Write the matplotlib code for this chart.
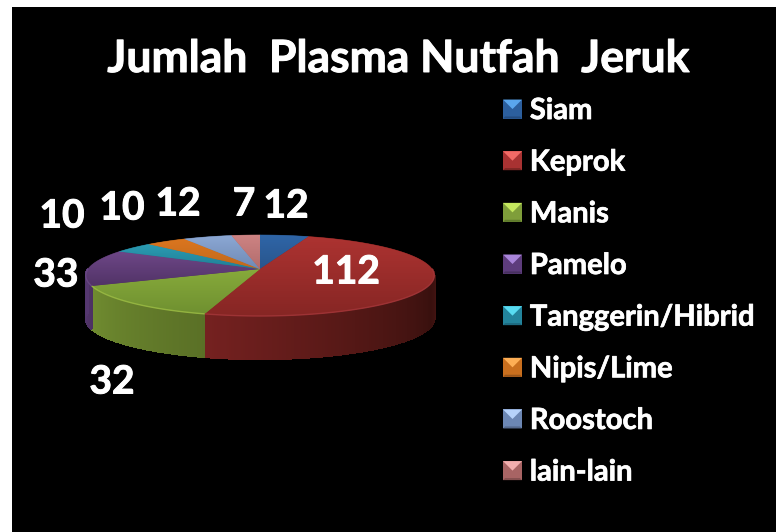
import numpy as np
import matplotlib
matplotlib.use("Agg")
import matplotlib.pyplot as plt
import matplotlib.patheffects as pe
from matplotlib.colors import LinearSegmentedColormap, to_rgb
from matplotlib.legend_handler import HandlerBase
from matplotlib.patches import Patch, Polygon

categories = ["Siam", "Keprok", "Manis", "Pamelo", "Tanggerin/Hibrid",
              "Nipis/Lime", "Roostoch", "lain-lain"]
values = [12, 112, 32, 33, 10, 10, 12, 7]
title = "Jumlah  Plasma Nutfah  Jeruk"

# styles
top_hi = ["#2f66a8", "#ad3331", "#87aa3b", "#6e4788", "#2b9cb3", "#dc761f", "#8ca8d4", "#ce8484"]
top_lo = ["#29558c", "#862624", "#6f9030", "#513366", "#207f96", "#c0691c", "#6f8ab5", "#b26c6c"]
legend_base = ["#2c5f9e", "#a83232", "#7f9e3a", "#5d3c7c", "#23849c", "#c96f1e", "#6c87b4", "#a86464"]
legend_light = ["#5aa6ee", "#f26a66", "#c4e85e", "#a985da", "#58dcf2", "#fdae55", "#b6d2fa", "#f2aeae"]
legend_dark = ["#234c80", "#7c2624", "#5f7a2c", "#47305f", "#1d6a80", "#99551a", "#55698d", "#855050"]
# colours of the side wall at the ends of each visible slice: (angle, colour)
side_stops = {
    1: [(90, "#4a1513"), (112, "#38100e"), (150, "#521715"), (196, "#752120")],
    2: [(196, "#5a7026"), (246.5, "#708c30")],
    3: [(246.5, "#4c3162"), (270, "#553770")],
}
label_xy = [(286, 206), (346, 272), (112, 382), (56, 275),
            (62, 216), (122, 208), (178, 204), (244, 204)]

plt.rcParams["font.family"] = ["Lato", "DejaVu Sans"]
plt.rcParams["font.weight"] = "bold"
heavy = [pe.withStroke(linewidth=0.7, foreground="white")]

W, H = 776, 532
fig = plt.figure(figsize=(W / 100, H / 100), dpi=100, facecolor="white")
ax = fig.add_axes([12 / W, 0, 1 - 12 / W, 1 - 7 / H], facecolor="black")
ax.set_axis_off()
ax.add_patch(Polygon([(12, 7), (W, 7), (W, H), (12, H)], closed=True, fc="black", ec="none", zorder=0))

CX, CY, R, A, B, DEPTH = 260, 269, 172, 39.46, 0.16, 43


def project(theta_deg):
    t = np.radians(np.asarray(theta_deg, dtype=float))
    u, v = np.sin(t), np.cos(t)
    d = 1 + B * v
    return CX + R * u / d, CY - A * v / d


ends = np.cumsum(values) / np.sum(values) * 360
starts = np.r_[0, ends[:-1]]

# side wall
for idx, stops in side_stops.items():
    a0, a1 = stops[0][0], stops[-1][0]
    grid = np.linspace(a0, a1, int(a1 - a0) * 2 + 2)
    angs = [s[0] for s in stops]
    rgb = np.array([to_rgb(s[1]) for s in stops])
    for g0, g1 in zip(grid[:-1], grid[1:]):
        x, y = project([g0, g1])
        gm = (g0 + g1) / 2
        col = [np.interp(gm, angs, rgb[:, k]) for k in range(3)]
        ax.fill([x[0], x[1], x[1], x[0]],
                [y[0], y[1], y[1] + DEPTH, y[0] + DEPTH],
                color=col, lw=1.0, zorder=2, antialiased=False)

# top faces with a vertical gradient
grad = np.linspace(0, 1, 256).reshape(-1, 1)
for i, (s, e) in enumerate(zip(starts, ends)):
    th = np.linspace(s, e, max(int(e - s) * 2, 8))
    x, y = project(th)
    xs = np.r_[CX, x]
    ys = np.r_[CY, y]
    poly = Polygon(np.c_[xs, ys], closed=True, fc=top_lo[i], ec=top_lo[i], lw=0.4, zorder=3)
    ax.add_patch(poly)
    cmap = LinearSegmentedColormap.from_list(f"c{i}", [top_hi[i], top_lo[i]])
    im = ax.imshow(grad, cmap=cmap, aspect="auto", zorder=3.1,
                   extent=(xs.min(), xs.max(), ys.max(), ys.min()), interpolation="bilinear")
    im.set_clip_path(poly)

# light rim at the front edge of the top
for idx, col in ((1, "#a5373a"), (2, "#9dbd45"), (3, "#6d4a8a")):
    a0 = max(starts[idx], 90)
    a1 = min(ends[idx], 270)
    x, y = project(np.linspace(a0, a1, 80))
    ax.plot(x, y, color=col, lw=1.0, zorder=4, alpha=0.8, solid_capstyle="butt")

ax.set_xlim(12, W)
ax.set_ylim(H, 7)

# data labels
for v, (lx, ly) in zip(values, label_xy):
    ax.text(lx, ly, str(v), color="white", fontsize=28, fontweight="bold",
            ha="center", va="center", zorder=6, path_effects=heavy)

fig.suptitle(title, x=399 / W, y=1 - 59 / H, color="white", fontsize=32,
             fontweight="bold", ha="center", va="center", path_effects=heavy)


class BevelHandler(HandlerBase):
    def create_artists(self, legend, orig, xd, yd, width, height, fontsize, trans):
        i = orig.idx
        s = 19 * 0.72
        x0 = -xd
        y0 = -yd + (height - s) / 2
        x1, y1 = x0 + s, y0 + s
        xm, ym = x0 + s / 2, y0 + s / 2
        in_ = 1.5
        parts = [
            ([(x0, y0), (x1, y0), (x1, y1), (x0, y1)], legend_base[i]),
            ([(x0, y1), (x1, y1), (xm, ym)], legend_light[i]),
            ([(x0, y0), (x1, y0), (x1 - in_, y0 + in_), (x0 + in_, y0 + in_)], legend_dark[i]),
        ]
        return [Polygon(p, closed=True, fc=c, ec="none", transform=trans) for p, c in parts]


handles = []
for i, c in enumerate(categories):
    h = Patch(label=c)
    h.idx = i
    handles.append(h)

leg = ax.legend(handles=handles, loc="upper left", bbox_to_anchor=(503 / W, 1 - 96 / H),
                bbox_transform=fig.transFigure, frameon=False, ncol=1, fontsize=21,
                labelcolor="white", handler_map={Patch: BevelHandler()},
                handlelength=0.65, handleheight=1.0, handletextpad=0.27,
                labelspacing=0.0, borderpad=0, borderaxespad=0)
for t in leg.get_texts():
    t.set_path_effects([pe.withStroke(linewidth=0.5, foreground="white")])
leg.set_zorder(7)
# even row pitch of the legend
leg._legend_box.get_children()[1].get_children()[0].sep = 17

fig.savefig("out.png", dpi=100, facecolor="white")
